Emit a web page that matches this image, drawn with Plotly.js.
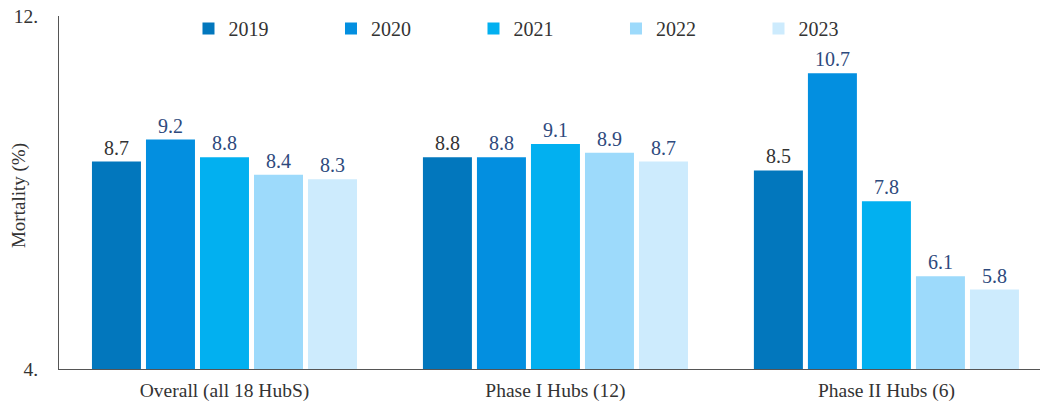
<!DOCTYPE html>
<html>
<head>
<meta charset="utf-8">
<script src="https://cdn.plot.ly/plotly-3.0.1.min.js"></script>
<style>html,body{margin:0;padding:0;background:#fff;}#chart{width:1040px;height:404px;}</style>
</head>
<body>
<div id="chart"></div>
<script>
const categories = ["Overall (all 18 HubS)", "Phase I Hubs (12)", "Phase II Hubs (6)"];
const years = ["2019", "2020", "2021", "2022", "2023"];
const v2019 = [8.7, 8.8, 8.5];
const v2020 = [9.2, 8.8, 10.7];
const v2021 = [8.8, 9.1, 7.8];
const v2022 = [8.4, 8.9, 6.1];
const v2023 = [8.3, 8.7, 5.8];
const seriesValues = [v2019, v2020, v2021, v2022, v2023];
const colors = ["#0277BD", "#038FE0", "#02B0F0", "#9DDAFB", "#CDEBFD"];
const labelColors = ["#333333", "#2E4A7D", "#2E4A7D", "#2E4A7D", "#2E4A7D"];
const yTickVals = [4, 12];
const yTickText = ["4.", "12."];
const yTitle = "Mortality (%)";

const font = "'Liberation Serif', 'Times New Roman', serif";
const traces = years.map((y, i) => ({
  type: "bar",
  name: y,
  x: categories,
  y: seriesValues[i],
  marker: {color: colors[i]},
  text: seriesValues[i].map(v => v.toFixed(1)),
  textposition: "outside",
  textfont: {family: font, size: 20, color: labelColors[i]},
  cliponaxis: false,
  hoverinfo: "none"
}));

const layout = {
  width: 1040, height: 404,
  margin: {l: 59, r: 0, t: 16, b: 35},
  paper_bgcolor: "#fff", plot_bgcolor: "#fff",
  barmode: "group",
  bargap: 0.184,
  bargroupgap: 0.093,
  font: {family: font, size: 19.5, color: "#333"},
  showlegend: true,
  legend: {
    orientation: "h",
    x: 0.132, xanchor: "left",
    y: 1.02, yanchor: "top",
    entrywidth: 97.5, entrywidthmode: "pixels",
    itemwidth: 30,
    font: {family: font, size: 20, color: "#333"},
    bgcolor: "rgba(0,0,0,0)"
  },
  xaxis: {
    range: [-0.5, 2.464],
    showline: true, linecolor: "#555", linewidth: 1,
    ticks: "", showgrid: false,
    ticklabelstandoff: 4,
    tickfont: {family: font, size: 19.5, color: "#333"}
  },
  yaxis: {
    range: [4, 12],
    showline: true, linecolor: "#555", linewidth: 1,
    showgrid: false, zeroline: false, ticks: "",
    tickvals: yTickVals, ticktext: yTickText,
    ticklabelstandoff: 16,
    tickfont: {family: font, size: 19.5, color: "#333"}
  },
  annotations: [{
    text: yTitle, xref: "paper", yref: "paper",
    x: 0, y: 0.49, xanchor: "center", yanchor: "middle",
    xshift: -40, textangle: -90, showarrow: false,
    font: {family: font, size: 19, color: "#333"}
  }]
};

Plotly.newPlot("chart", traces, layout, {displayModeBar: false, staticPlot: true});
</script>
</body>
</html>
